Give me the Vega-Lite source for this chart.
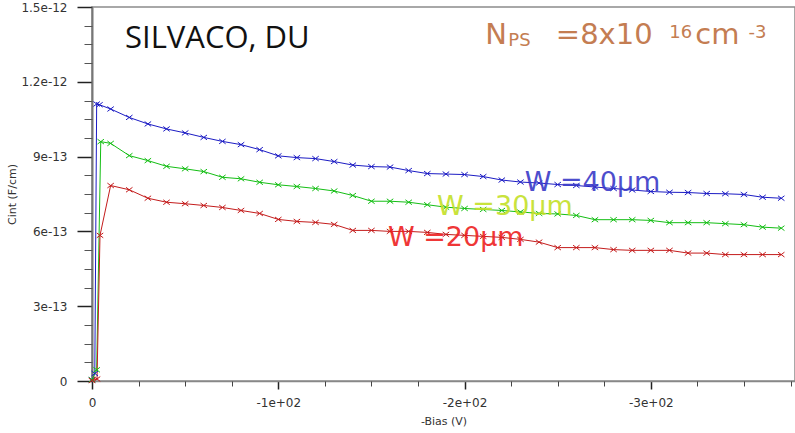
{
  "$schema": "https://vega.github.io/schema/vega-lite/v6.json",
  "width": 703,
  "height": 374,
  "autosize": "none",
  "padding": {"left": 92, "top": 7, "right": 0, "bottom": 52},
  "background": "white",
  "config": {
    "view": {"stroke": "#8c8c8c", "strokeWidth": 1.5},
    "axis": {"grid": false, "labelFlush": false, "labelFont": "DejaVu Sans", "titleFont": "DejaVu Sans", "labelColor": "#333333", "titleColor": "#333333", "titleFontWeight": "normal"}
  },
  "datasets": {
    "cint": [
      {"W": "40", "bias": 0, "cint": 0.05e-13},
      {"W": "40", "bias": -1.5, "cint": 0.3e-13},
      {"W": "40", "bias": -2.5, "cint": 11.11e-13},
      {"W": "40", "bias": -4, "cint": 11.08e-13},
      {"W": "40", "bias": -10, "cint": 10.91e-13},
      {"W": "40", "bias": -20, "cint": 10.57e-13},
      {"W": "40", "bias": -30, "cint": 10.31e-13},
      {"W": "40", "bias": -40, "cint": 10.11e-13},
      {"W": "40", "bias": -50, "cint": 9.95e-13},
      {"W": "40", "bias": -60, "cint": 9.77e-13},
      {"W": "40", "bias": -70, "cint": 9.61e-13},
      {"W": "40", "bias": -80, "cint": 9.48e-13},
      {"W": "40", "bias": -90, "cint": 9.28e-13},
      {"W": "40", "bias": -100, "cint": 9.03e-13},
      {"W": "40", "bias": -110, "cint": 8.96e-13},
      {"W": "40", "bias": -120, "cint": 8.92e-13},
      {"W": "40", "bias": -130, "cint": 8.80e-13},
      {"W": "40", "bias": -140, "cint": 8.66e-13},
      {"W": "40", "bias": -150, "cint": 8.60e-13},
      {"W": "40", "bias": -160, "cint": 8.58e-13},
      {"W": "40", "bias": -170, "cint": 8.44e-13},
      {"W": "40", "bias": -180, "cint": 8.32e-13},
      {"W": "40", "bias": -190, "cint": 8.30e-13},
      {"W": "40", "bias": -200, "cint": 8.28e-13},
      {"W": "40", "bias": -210, "cint": 8.20e-13},
      {"W": "40", "bias": -220, "cint": 8.06e-13},
      {"W": "40", "bias": -230, "cint": 7.98e-13},
      {"W": "40", "bias": -240, "cint": 7.94e-13},
      {"W": "40", "bias": -250, "cint": 7.88e-13},
      {"W": "40", "bias": -260, "cint": 7.84e-13},
      {"W": "40", "bias": -270, "cint": 7.78e-13},
      {"W": "40", "bias": -280, "cint": 7.72e-13},
      {"W": "40", "bias": -290, "cint": 7.66e-13},
      {"W": "40", "bias": -300, "cint": 7.60e-13},
      {"W": "40", "bias": -310, "cint": 7.57e-13},
      {"W": "40", "bias": -320, "cint": 7.56e-13},
      {"W": "40", "bias": -330, "cint": 7.52e-13},
      {"W": "40", "bias": -340, "cint": 7.51e-13},
      {"W": "40", "bias": -350, "cint": 7.48e-13},
      {"W": "40", "bias": -360, "cint": 7.37e-13},
      {"W": "40", "bias": -370, "cint": 7.33e-13},

      {"W": "30", "bias": 0, "cint": 0.05e-13},
      {"W": "30", "bias": -2.5, "cint": 0.45e-13},
      {"W": "30", "bias": -4.7, "cint": 9.60e-13},
      {"W": "30", "bias": -10, "cint": 9.53e-13},
      {"W": "30", "bias": -20, "cint": 9.04e-13},
      {"W": "30", "bias": -30, "cint": 8.84e-13},
      {"W": "30", "bias": -40, "cint": 8.61e-13},
      {"W": "30", "bias": -50, "cint": 8.51e-13},
      {"W": "30", "bias": -60, "cint": 8.40e-13},
      {"W": "30", "bias": -70, "cint": 8.17e-13},
      {"W": "30", "bias": -80, "cint": 8.11e-13},
      {"W": "30", "bias": -90, "cint": 7.97e-13},
      {"W": "30", "bias": -100, "cint": 7.87e-13},
      {"W": "30", "bias": -110, "cint": 7.80e-13},
      {"W": "30", "bias": -120, "cint": 7.72e-13},
      {"W": "30", "bias": -130, "cint": 7.62e-13},
      {"W": "30", "bias": -140, "cint": 7.44e-13},
      {"W": "30", "bias": -150, "cint": 7.21e-13},
      {"W": "30", "bias": -160, "cint": 7.21e-13},
      {"W": "30", "bias": -170, "cint": 7.17e-13},
      {"W": "30", "bias": -180, "cint": 7.07e-13},
      {"W": "30", "bias": -190, "cint": 6.97e-13},
      {"W": "30", "bias": -200, "cint": 6.92e-13},
      {"W": "30", "bias": -210, "cint": 6.88e-13},
      {"W": "30", "bias": -220, "cint": 6.84e-13},
      {"W": "30", "bias": -230, "cint": 6.78e-13},
      {"W": "30", "bias": -240, "cint": 6.72e-13},
      {"W": "30", "bias": -250, "cint": 6.70e-13},
      {"W": "30", "bias": -260, "cint": 6.64e-13},
      {"W": "30", "bias": -270, "cint": 6.47e-13},
      {"W": "30", "bias": -280, "cint": 6.47e-13},
      {"W": "30", "bias": -290, "cint": 6.47e-13},
      {"W": "30", "bias": -300, "cint": 6.44e-13},
      {"W": "30", "bias": -310, "cint": 6.35e-13},
      {"W": "30", "bias": -320, "cint": 6.35e-13},
      {"W": "30", "bias": -330, "cint": 6.35e-13},
      {"W": "30", "bias": -340, "cint": 6.31e-13},
      {"W": "30", "bias": -350, "cint": 6.27e-13},
      {"W": "30", "bias": -360, "cint": 6.17e-13},
      {"W": "30", "bias": -370, "cint": 6.13e-13},

      {"W": "20", "bias": 0, "cint": 0.02e-13},
      {"W": "20", "bias": -2.7, "cint": 0.08e-13},
      {"W": "20", "bias": -4.3, "cint": 5.84e-13},
      {"W": "20", "bias": -10, "cint": 7.84e-13},
      {"W": "20", "bias": -20, "cint": 7.67e-13},
      {"W": "20", "bias": -30, "cint": 7.33e-13},
      {"W": "20", "bias": -40, "cint": 7.17e-13},
      {"W": "20", "bias": -50, "cint": 7.11e-13},
      {"W": "20", "bias": -60, "cint": 7.04e-13},
      {"W": "20", "bias": -70, "cint": 6.96e-13},
      {"W": "20", "bias": -80, "cint": 6.84e-13},
      {"W": "20", "bias": -90, "cint": 6.72e-13},
      {"W": "20", "bias": -100, "cint": 6.48e-13},
      {"W": "20", "bias": -110, "cint": 6.40e-13},
      {"W": "20", "bias": -120, "cint": 6.36e-13},
      {"W": "20", "bias": -130, "cint": 6.28e-13},
      {"W": "20", "bias": -140, "cint": 6.04e-13},
      {"W": "20", "bias": -150, "cint": 6.04e-13},
      {"W": "20", "bias": -160, "cint": 6.00e-13},
      {"W": "20", "bias": -170, "cint": 6.00e-13},
      {"W": "20", "bias": -180, "cint": 5.96e-13},
      {"W": "20", "bias": -190, "cint": 5.88e-13},
      {"W": "20", "bias": -200, "cint": 5.84e-13},
      {"W": "20", "bias": -210, "cint": 5.80e-13},
      {"W": "20", "bias": -220, "cint": 5.76e-13},
      {"W": "20", "bias": -230, "cint": 5.68e-13},
      {"W": "20", "bias": -240, "cint": 5.57e-13},
      {"W": "20", "bias": -250, "cint": 5.35e-13},
      {"W": "20", "bias": -260, "cint": 5.35e-13},
      {"W": "20", "bias": -270, "cint": 5.35e-13},
      {"W": "20", "bias": -280, "cint": 5.27e-13},
      {"W": "20", "bias": -290, "cint": 5.24e-13},
      {"W": "20", "bias": -300, "cint": 5.24e-13},
      {"W": "20", "bias": -310, "cint": 5.24e-13},
      {"W": "20", "bias": -320, "cint": 5.13e-13},
      {"W": "20", "bias": -330, "cint": 5.13e-13},
      {"W": "20", "bias": -340, "cint": 5.07e-13},
      {"W": "20", "bias": -350, "cint": 5.07e-13},
      {"W": "20", "bias": -360, "cint": 5.07e-13},
      {"W": "20", "bias": -370, "cint": 5.07e-13}
    ],
    "title": [
      {"text": "SILVACO, DU", "bias": -17.7, "cint": 1.336e-12}
    ],
    "doping": [
      {"text": "N", "bias": -216.9, "cint": 1.352e-12},
      {"text": "=8x10", "bias": -275.0, "cint": 1.352e-12},
      {"text": "cm", "bias": -335.7, "cint": 1.352e-12}
    ],
    "dopingSmall": [
      {"text": "PS", "bias": -229.5, "cint": 1.344e-12},
      {"text": "16", "bias": -316.0, "cint": 1.376e-12},
      {"text": "-3", "bias": -357.2, "cint": 1.376e-12}
    ],
    "widths": [
      {"text": "W =40µm", "W": "40", "bias": -268.7, "cint": 7.61e-13},
      {"text": "W =30µm", "W": "30", "bias": -221.7, "cint": 6.64e-13},
      {"text": "W =20µm", "W": "20", "bias": -195.3, "cint": 5.40e-13}
    ]
  },
  "layer": [
    {
      "data": {"name": "cint"},
      "mark": {
        "type": "line",
        "strokeWidth": 1,
        "point": {"shape": "M-1,-0.75L1,0.75M-1,0.75L1,-0.75", "filled": false, "size": 42, "strokeWidth": 1}
      },
      "encoding": {
        "x": {
          "field": "bias", "type": "quantitative",
          "scale": {"domain": [-377.4, 0], "reverse": true, "nice": false, "zero": false},
          "axis": {
            "orient": "bottom",
            "values": [0, -100, -200, -300],
            "labelExpr": "datum.value === 0 ? '0' : '-' + format(-datum.value / 100, 'd') + 'e+02'",
            "labelFontSize": 12,
            "labelPadding": 8,
            "tickSize": 8, "tickColor": "#222222", "tickWidth": 1.5,
            "domainColor": "#888888", "domainWidth": 1.5,
            "title": "-Bias (V)", "titleFontSize": 11, "titlePadding": 7
          }
        },
        "y": {
          "field": "cint", "type": "quantitative",
          "scale": {"domain": [0, 1.5e-12], "nice": false},
          "axis": {
            "orient": "left",
            "values": [0, 3e-13, 6e-13, 9e-13, 1.2e-12, 1.5e-12],
            "labelExpr": "datum.value === 0 ? '0' : format(datum.value, '.2~e')",
            "labelFontSize": 12,
            "labelPadding": 10,
            "tickSize": 15, "tickColor": "#222222", "tickWidth": 1.5,
            "domainColor": "#777777", "domainWidth": 2,
            "title": "Cint (F/cm)", "titleFontSize": 11, "titlePadding": 3
          }
        },
        "color": {
          "field": "W", "type": "nominal",
          "scale": {"domain": ["40", "30", "20"], "range": ["#1c1cc4", "#14be14", "#c41c1c"]},
          "legend": null
        }
      }
    },
    {
      "data": {"name": "title"},
      "mark": {"type": "text", "align": "left", "baseline": "alphabetic", "font": "Open Sans", "fontSize": 31, "color": "#111111"},
      "encoding": {
        "x": {
          "field": "bias", "type": "quantitative",
          "axis": {
            "orient": "bottom",
            "values": [-25, -50, -75, -125, -150, -175, -225, -250, -275, -325, -350, -375],
            "labels": false, "domain": false, "title": null,
            "tickSize": 5, "tickColor": "#444444", "tickWidth": 1
          }
        },
        "y": {
          "field": "cint", "type": "quantitative",
          "axis": {
            "orient": "left",
            "values": [7.5e-14, 1.5e-13, 2.25e-13, 3.75e-13, 4.5e-13, 5.25e-13, 6.75e-13, 7.5e-13, 8.25e-13, 9.75e-13, 1.05e-12, 1.125e-12, 1.275e-12, 1.35e-12, 1.425e-12],
            "labels": false, "domain": false, "title": null,
            "tickSize": 8, "tickColor": "#555555", "tickWidth": 1
          }
        },
        "text": {"field": "text"}
      }
    },
    {
      "data": {"name": "doping"},
      "mark": {"type": "text", "align": "center", "baseline": "alphabetic", "font": "DejaVu Sans", "fontSize": 29, "color": "#c47d52"},
      "encoding": {
        "x": {"field": "bias", "type": "quantitative", "axis": null},
        "y": {"field": "cint", "type": "quantitative", "axis": null},
        "text": {"field": "text"}
      }
    },
    {
      "data": {"name": "dopingSmall"},
      "mark": {"type": "text", "align": "center", "baseline": "alphabetic", "font": "DejaVu Sans", "fontSize": 18, "color": "#c47d52"},
      "encoding": {
        "x": {"field": "bias", "type": "quantitative", "axis": null},
        "y": {"field": "cint", "type": "quantitative", "axis": null},
        "text": {"field": "text"}
      }
    },
    {
      "data": {"name": "widths"},
      "mark": {"type": "text", "align": "center", "baseline": "alphabetic", "font": "DejaVu Sans", "fontSize": 27, "opacity": 0.9},
      "encoding": {
        "x": {"field": "bias", "type": "quantitative", "axis": null},
        "y": {"field": "cint", "type": "quantitative", "axis": null},
        "text": {"field": "text"},
        "color": {
          "field": "W", "type": "nominal",
          "scale": {"domain": ["40", "30", "20"], "range": ["#3a3ac8", "#c4e028", "#ee2222"]},
          "legend": null
        }
      }
    }
  ],
  "resolve": {
    "scale": {"color": "independent"},
    "axis": {"x": "independent", "y": "independent"}
  }
}
